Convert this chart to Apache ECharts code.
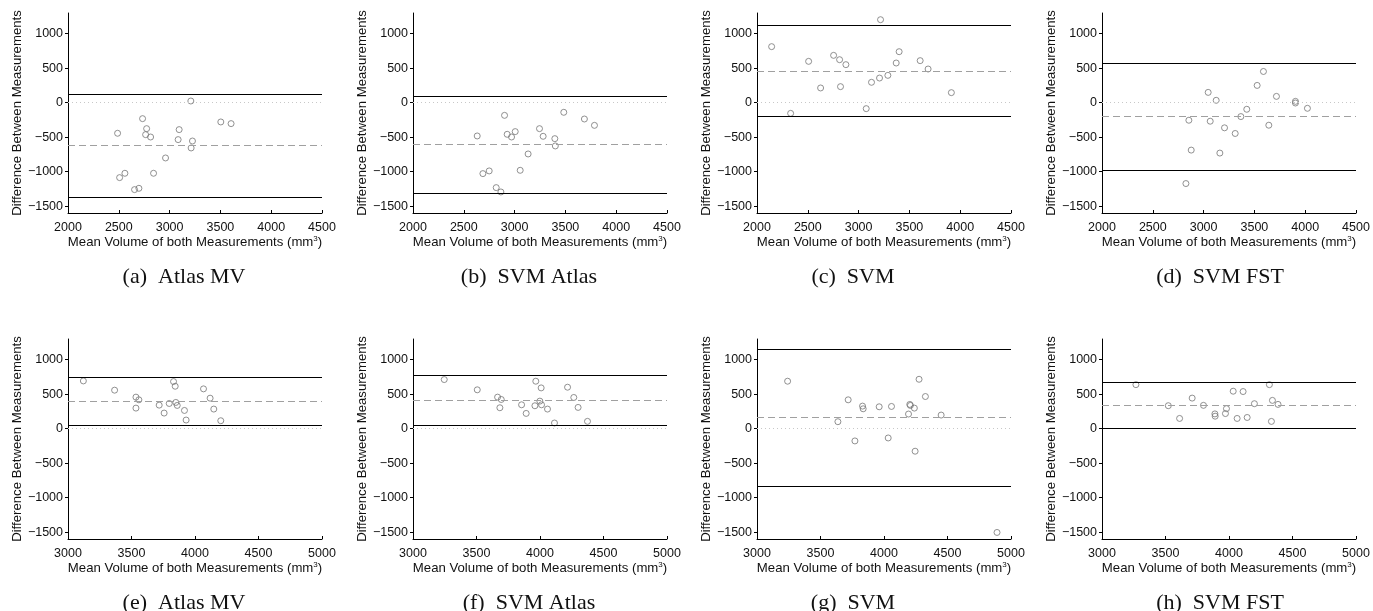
<!DOCTYPE html>
<html>
<head>
<meta charset="utf-8">
<script src="https://cdn.jsdelivr.net/npm/echarts@6/dist/echarts.min.js"></script>
<style>
  html, body { margin: 0; padding: 0; background: #ffffff; }
  #chart { width: 1373px; height: 611px; }
</style>
</head>
<body>
<div id="chart"></div>
<script>
// Bland-Altman plots: mean volume vs. difference of two measurements (mm^3)

// Row 1 panels
const meanAtlasMV1 = [2488, 2508, 2560, 2655, 2698, 2734, 2774, 2764, 2813, 2842, 2960, 3094, 3084, 3209, 3225, 3212, 3504, 3605];
const diffAtlasMV1 = [-444, -1087, -1024, -1261, -1242, -232, -377, -464, -498, -1024, -802, -391, -536, 24, -556, -657, -280, -304];

const meanSvmAtlas1 = [2632, 2688, 2750, 2819, 2865, 2901, 2927, 2970, 3006, 3055, 3133, 3245, 3281, 3396, 3401, 3484, 3687, 3786];
const diffSvmAtlas1 = [-483, -1029, -990, -1232, -1295, -184, -459, -498, -420, -981, -744, -377, -488, -522, -628, -140, -237, -329];

const meanSvm1 = [2144, 2331, 2508, 2626, 2754, 2813, 2822, 2875, 3075, 3127, 3206, 3216, 3288, 3370, 3399, 3606, 3684, 3913];
const diffSvm1 = [812, -155, 599, 213, 686, 623, 232, 551, -87, 295, 357, 1203, 396, 575, 739, 609, 488, 145];

const meanSvmFst1 = [2826, 2855, 2878, 3045, 3065, 3124, 3160, 3206, 3311, 3367, 3425, 3527, 3589, 3642, 3717, 3904, 3904, 4022];
const diffSvmFst1 = [-1173, -255, -688, 149, -269, 34, -731, -365, -447, -202, -96, 250, 452, -327, 91, 19, -5, -82];

// Row 2 panels
const meanAtlasMV2 = [3121, 3367, 3535, 3558, 3535, 3718, 3757, 3797, 3831, 3844, 3849, 3860, 3917, 3930, 4067, 4119, 4148, 4203];
const diffAtlasMV2 = [692, 558, 457, 418, 298, 341, 226, 365, 683, 615, 380, 337, 264, 125, 577, 442, 284, 115];

const meanSvmAtlas2 = [3246, 3506, 3666, 3695, 3684, 3855, 3891, 3960, 3967, 3999, 4009, 4012, 4059, 4114, 4217, 4266, 4300, 4374];
const diffSvmAtlas2 = [712, 563, 457, 423, 303, 346, 221, 332, 688, 399, 591, 346, 284, 82, 601, 452, 308, 106];

const meanSvm2 = [3241, 3637, 3718, 3771, 3831, 3836, 3962, 4033, 4059, 4193, 4203, 4208, 4239, 4245, 4276, 4326, 4450, 4890];
const diffSvm2 = [688, 101, 418, -178, 327, 288, 317, -135, 322, 212, 351, 337, 298, -327, 716, 466, 197, -1505];

const meanSvmFst2 = [3267, 3522, 3611, 3710, 3799, 3889, 3891, 3972, 3980, 4033, 4064, 4111, 4143, 4200, 4318, 4334, 4342, 4386];
const diffSvmFst2 = [638, 333, 148, 443, 338, 214, 181, 219, 290, 543, 148, 538, 162, 362, 638, 105, 410, 352];

// Mean difference and limits of agreement, one per panel (a..h)
const upperLimits = [121, 92, 1121, 577, 750, 769, 1154, 671];
const meanDiffs   = [-623, -609, 461, -202, 397, 406, 161, 336];
const lowerLimits = [-1367, -1309, -198, -981, 43, 43, -832, 0];

const captions = ['(a)  Atlas MV', '(b)  SVM Atlas', '(c)  SVM', '(d)  SVM FST',
                  '(e)  Atlas MV', '(f)  SVM Atlas', '(g)  SVM', '(h)  SVM FST'];

const xTicksRow1 = [2000, 2500, 3000, 3500, 4000, 4500];
const xTicksRow2 = [3000, 3500, 4000, 4500, 5000];
const yTicks = [-1500, -1000, -500, 0, 500, 1000];

const panelMeans = [meanAtlasMV1, meanSvmAtlas1, meanSvm1, meanSvmFst1,
                    meanAtlasMV2, meanSvmAtlas2, meanSvm2, meanSvmFst2];
const panelDiffs = [diffAtlasMV1, diffSvmAtlas1, diffSvm1, diffSvmFst1,
                    diffAtlasMV2, diffSvmAtlas2, diffSvm2, diffSvmFst2];

// Layout
const colLeft = [68, 413, 757, 1102];
const rowTop = [13, 339];
const plotW = 254, plotH = 200;
const captionCenter = [184, 529, 853, 1220];
const captionTop = [266, 592];

const sansFont = '"Liberation Sans", Arial, Helvetica, sans-serif';
const serifFont = '"Liberation Serif", "Times New Roman", serif';
const fmtY = v => (v < 0 ? '\u2212' + Math.abs(v) : String(v));
const fmtX = v => String(v);

const grids = [], xAxes = [], yAxes = [], series = [], titles = [];

for (let i = 0; i < 8; i++) {
  const row = Math.floor(i / 4), col = i % 4;
  const xt = row === 0 ? xTicksRow1 : xTicksRow2;
  grids.push({ left: colLeft[col], top: rowTop[row], width: plotW, height: plotH, containLabel: false });

  xAxes.push({
    type: 'value', gridIndex: i,
    min: xt[0], max: xt[xt.length - 1], interval: 500,
    name: 'Mean Volume of both Measurements (mm{sup|3})',
    nameLocation: 'middle', nameGap: 18,
    nameTextStyle: {
      fontFamily: sansFont, fontSize: 13.2, color: '#111', verticalAlign: 'top',
      rich: { sup: { fontFamily: sansFont, fontSize: 8, color: '#111', padding: [0, 0, 7, 0] } }
    },
    axisLine: { show: true, onZero: false, lineStyle: { color: '#000', width: 1 } },
    axisTick: { show: true, inside: true, length: 3, lineStyle: { color: '#000' } },
    axisLabel: { margin: 8, fontFamily: sansFont, fontSize: 12.5, color: '#111', formatter: fmtX },
    splitLine: { show: false }
  });

  yAxes.push({
    type: 'value', gridIndex: i,
    min: -1600, max: 1300,
    name: 'Difference Between Measurements',
    nameLocation: 'middle', nameGap: 34, nameRotate: 90,
    nameTextStyle: { fontFamily: sansFont, fontSize: 13.2, color: '#111' },
    axisLine: { show: true, onZero: false, lineStyle: { color: '#000', width: 1 } },
    axisTick: { show: true, inside: false, length: 3, customValues: yTicks, lineStyle: { color: '#000' } },
    axisLabel: { margin: 5, fontFamily: sansFont, fontSize: 12.5, color: '#111', customValues: yTicks, formatter: fmtY },
    splitLine: { show: false }
  });

  const pts = panelMeans[i].map((m, k) => [m, panelDiffs[i][k]]);
  series.push({
    type: 'scatter', xAxisIndex: i, yAxisIndex: i,
    data: pts, symbol: 'circle', symbolSize: 6,
    itemStyle: { color: 'rgba(0,0,0,0)', borderColor: '#767676', borderWidth: 1 },
    emphasis: { disabled: true }, silent: true, z: 3,
    markLine: {
      silent: true, animation: false, symbol: ['none', 'none'],
      label: { show: false }, emphasis: { disabled: true },
      data: [
        { yAxis: 0, lineStyle: { color: '#c8c8c8', width: 1, type: [1, 3] } },
        { yAxis: meanDiffs[i], lineStyle: { color: '#a0a0a0', width: 1.2, type: [7, 4] } },
        { yAxis: upperLimits[i], lineStyle: { color: '#000', width: 1.2, type: 'solid' } },
        { yAxis: lowerLimits[i], lineStyle: { color: '#000', width: 1.2, type: 'solid' } }
      ]
    }
  });

  titles.push({
    text: captions[i],
    left: captionCenter[col], top: captionTop[row], textAlign: 'center', padding: 0,
    textStyle: { fontFamily: serifFont, fontSize: 22, fontWeight: 'normal', color: '#111' }
  });
}

const chart = echarts.init(document.getElementById('chart'), null, { renderer: 'canvas' });
chart.setOption({
  animation: false,
  backgroundColor: '#ffffff',
  title: titles,
  grid: grids,
  xAxis: xAxes,
  yAxis: yAxes,
  series: series
});
</script>
</body>
</html>
